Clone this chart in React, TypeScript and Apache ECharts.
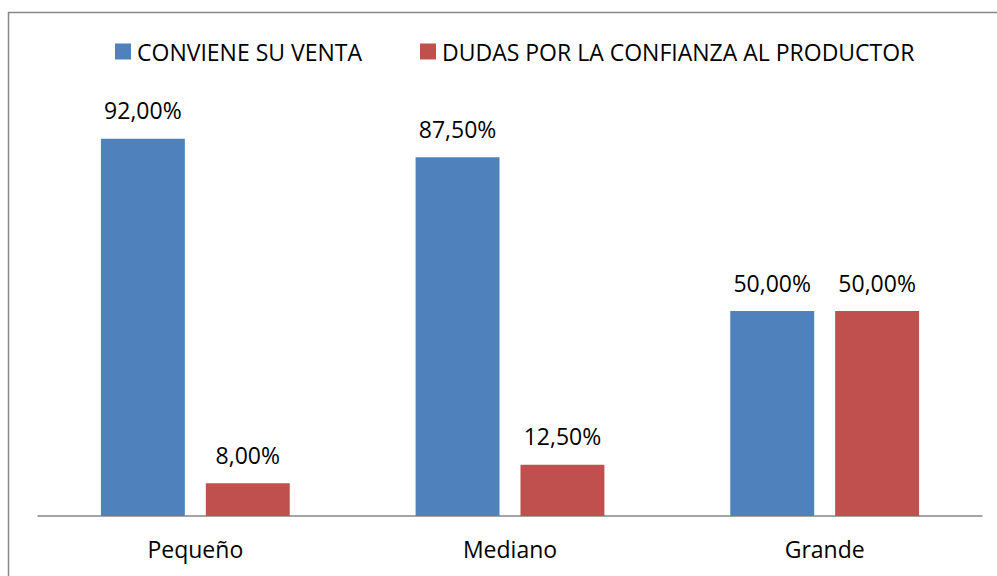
import React, { useEffect, useRef } from "react";
import * as echarts from "echarts";

const categories = ["Pequeño", "Mediano", "Grande"];
const seriesNames = ["CONVIENE SU VENTA", "DUDAS POR LA CONFIANZA AL PRODUCTOR"];
const convieneValues = [92, 87.5, 50];
const dudasValues = [8, 12.5, 50];
const colors = ["#4F81BD", "#C0504D"];

const FONT = "Open Sans";
const fmt = (v: number) => v.toFixed(2).replace(".", ",") + "%";

export default function App() {
  const ref = useRef<HTMLDivElement>(null);
  useEffect(() => {
    document.body.style.margin = "0";
    if (!ref.current) return;
    const chart = echarts.init(ref.current, null, { renderer: "svg" });
    const labelCfg = {
      show: true,
      position: "top",
      distance: 17,
      fontFamily: FONT,
      fontSize: 23,
      color: "#000",
      formatter: (p: any) => fmt(p.value),
    };
    const legendBase = {
      top: 40,
      padding: 0,
      itemWidth: 16,
      itemHeight: 16,
      itemGap: 0,
      icon: "rect",
      textStyle: { fontFamily: FONT, fontSize: 23, color: "#000", padding: [0, 0, 0, 1] },
    };
    chart.setOption({
      animation: false,
      backgroundColor: "#fff",
      textStyle: { fontFamily: FONT },
      graphic: [
        {
          type: "rect",
          shape: { x: 8.5, y: 12.5, width: 1100, height: 700 },
          style: { fill: "none", stroke: "#888888", lineWidth: 1.5 },
          silent: true,
        },
      ],
      legend: [
        { ...legendBase, data: [seriesNames[0]], left: 115 },
        { ...legendBase, data: [seriesNames[1]], left: 420 },
      ],
      grid: { left: 38, right: 15, top: 106, bottom: 60, containLabel: false },
      xAxis: {
        type: "category",
        data: categories,
        axisLine: { lineStyle: { color: "#868686", width: 1.5 } },
        axisTick: { show: false },
        axisLabel: { fontFamily: FONT, fontSize: 23, color: "#000", margin: 21 },
      },
      yAxis: {
        type: "value",
        min: 0,
        max: 100,
        show: false,
        splitLine: { show: false },
      },
      series: [
        {
          name: seriesNames[0],
          type: "bar",
          data: convieneValues,
          itemStyle: { color: colors[0] },
          barGap: "25%",
          barCategoryGap: "40%",
          label: labelCfg,
        },
        {
          name: seriesNames[1],
          type: "bar",
          data: dudasValues,
          itemStyle: { color: colors[1] },
          barGap: "25%",
          barCategoryGap: "40%",
          label: labelCfg,
        },
      ],
    });
    return () => chart.dispose();
  }, []);
  return <div ref={ref} style={{ width: 997, height: 576 }} />;
}
